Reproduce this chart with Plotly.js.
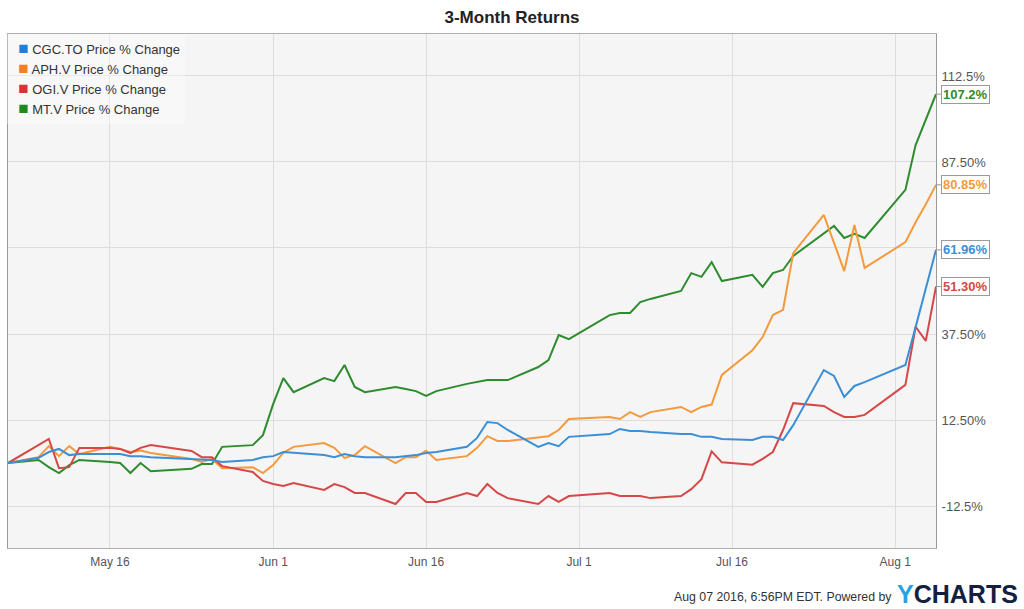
<!DOCTYPE html>
<html>
<head>
<meta charset="utf-8">
<script src="https://cdn.plot.ly/plotly-3.0.1.min.js"></script>
<style>html,body{margin:0;padding:0;background:#fff;}#chart{width:1024px;height:609px;}</style>
</head>
<body>
<div id="chart"></div>
<script>
const dates = ["2016-05-06","2016-05-09","2016-05-10","2016-05-11","2016-05-12","2016-05-13",
"2016-05-16","2016-05-17","2016-05-18","2016-05-19","2016-05-20","2016-05-24","2016-05-25",
"2016-05-26","2016-05-27","2016-05-30","2016-05-31","2016-06-01","2016-06-02","2016-06-03",
"2016-06-06","2016-06-07","2016-06-08","2016-06-09","2016-06-10","2016-06-13","2016-06-14",
"2016-06-15","2016-06-16","2016-06-17","2016-06-20","2016-06-21","2016-06-22","2016-06-23",
"2016-06-24","2016-06-27","2016-06-28","2016-06-29","2016-06-30","2016-07-04","2016-07-05",
"2016-07-06","2016-07-07","2016-07-08","2016-07-11","2016-07-12","2016-07-13","2016-07-14",
"2016-07-15","2016-07-18","2016-07-19","2016-07-20","2016-07-21","2016-07-22","2016-07-25",
"2016-07-26","2016-07-27","2016-07-28","2016-07-29","2016-08-02","2016-08-03","2016-08-04",
"2016-08-05"];

const cgc = [0,1.5,3.2,4.1,2.3,2.6,2.6,2.6,2.0,2.0,1.7,1.2,1.2,0.9,0.3,0.9,1.7,2.0,3.2,3.0,
2.3,1.7,2.6,2.0,1.7,1.7,2.0,2.3,2.9,3.2,4.7,7.3,11.9,11.6,9.6,4.7,5.8,4.9,7.6,8.4,9.9,
9.3,9.3,9.0,8.4,8.4,7.6,7.6,7.0,6.7,7.6,7.6,6.7,11.0,27.0,25.3,19.2,22.4,23.5,28.5,39.5,50.5,61.96];

const aph = [0,1.7,4.9,2.0,4.9,2.6,4.7,4.1,3.2,3.6,2.9,1.2,0.3,1.2,-1.5,-1.2,-2.9,-0.6,3.0,4.7,
5.8,4.4,1.5,2.3,4.9,0,1.7,1.7,3.6,0.9,2.0,4.4,7.8,6.4,6.4,7.3,7.8,9.6,12.8,13.4,12.8,
14.8,13.4,14.8,16.3,14.8,16.3,17.0,25.6,32.8,36.6,43.0,44.5,61.0,72.1,64.0,55.8,69.2,56.7,64.2,70.0,75.2,80.85];

const ogi = [0,5.3,7.0,-1.5,-1.2,4.4,4.4,4.1,2.9,4.4,5.2,3.5,1.7,1.7,-0.9,-2.6,-5.2,-6.1,-6.7,-5.8,
-7.8,-6.1,-7.0,-8.7,-8.7,-11.9,-8.7,-8.7,-11.3,-11.3,-8.7,-9.6,-6.1,-8.7,-10.2,-11.9,-9.6,-11.3,-9.6,-8.7,-9.6,
-9.6,-9.6,-10.2,-9.6,-7.6,-4.7,3.4,0.2,-0.5,1.2,3.2,9.6,17.4,16.6,14.8,13.4,13.4,14.0,22.7,39.6,35.5,51.30];

const mt = [0,0.9,-1.2,-2.9,-0.6,0.9,0.3,0,-2.9,0,-2.4,-1.7,-0.3,-0.3,4.7,5.2,8.1,17.1,24.7,20.6,
24.7,23.8,28.5,22.1,20.6,22.1,21.5,20.9,19.5,20.9,23.0,23.6,24.1,24.1,24.1,27.9,29.9,37.2,36.0,43.0,43.6,
43.6,46.8,47.7,50.0,55.2,54.1,58.4,52.9,54.7,51.2,55.2,56.1,60.2,66.9,68.9,65.4,66.6,65.4,79.4,92.4,99.7,107.2];

const seriesNames = ["CGC.TO Price % Change","APH.V Price % Change","OGI.V Price % Change","MT.V Price % Change"];
const seriesData = [cgc, aph, ogi, mt];
const lineColors = ["#3b8fd6","#f49a3c","#d64848","#2e8b2e"];
const legendColors = ["#1f7fd6","#f28024","#d9333a","#1e8a1e"];
const endLabels = ["61.96%","80.85%","51.30%","107.2%"];

const xTickVals = ["2016-05-16","2016-06-01","2016-06-16","2016-07-01","2016-07-16","2016-08-01"];
const xTickText = ["May 16","Jun 1","Jun 16","Jul 1","Jul 16","Aug 1"];
const yTickVals = [-12.5,12.5,37.5,62.5,87.5,112.5];
const yTickText = ["-12.5%","12.50%","37.50%","","87.50%","112.5%"];

const FONT = "Liberation Sans, Arial, sans-serif";
const traces = [];
const order = [3,1,2,0];
order.forEach(i => {
  traces.push({
    x: dates, y: seriesData[i], type: "scatter", mode: "lines",
    line: {color: lineColors[i], width: 2}, showlegend: false, hoverinfo: "skip"
  });
});
for (let i = 0; i < 4; i++) {
  traces.push({
    x: [null], y: [null], type: "scatter", mode: "markers",
    name: "<span style=\"color:" + legendColors[i] + ";font-size:17px\">\u25A0</span> " + seriesNames[i],
    marker: {symbol: "square", size: 1, color: "rgba(0,0,0,0)"}, showlegend: true
  });
}

const annotations = [];
for (let i = 0; i < 4; i++) {
  const d = seriesData[i];
  annotations.push({
    x: dates[dates.length - 1], y: d[d.length - 1], xref: "x", yref: "y",
    text: "<b>" + endLabels[i] + "</b>",
    showarrow: true, arrowhead: 0, arrowwidth: 1, arrowcolor: "#9a9a9a",
    ax: 5, ay: 0, xanchor: "left", yanchor: "middle",
    font: {family: FONT, size: 13, color: lineColors[i]},
    bgcolor: "#ffffff", bordercolor: "#9a9a9a", borderwidth: 1, borderpad: 1
  });
}
annotations.push({
  xref: "paper", yref: "paper", x: (894 - 8) / 928, y: -(597 - 548) / 514,
  xanchor: "right", yanchor: "middle", showarrow: false,
  text: "Aug 07 2016, 6:56PM EDT. Powered by",
  font: {family: FONT, size: 12.3, color: "#333333"}
});
annotations.push({
  xref: "paper", yref: "paper", x: (895 - 8) / 928, y: -(594 - 548) / 514,
  xanchor: "left", yanchor: "middle", showarrow: false,
  text: "<b><span style=\"color:#29a3e0\">Y</span>CHARTS</b>",
  font: {family: FONT, size: 25, color: "#13213f"}
});

const layout = {
  width: 1024, height: 609,
  margin: {l: 8, r: 88, t: 34, b: 61, autoexpand: false},
  paper_bgcolor: "#ffffff", plot_bgcolor: "#f5f5f5",
  font: {family: FONT, color: "#555555"},
  title: {text: "<b>3-Month Returns</b>", x: 0.5, xref: "container", xanchor: "center",
    y: 1 - 17 / 609, yanchor: "middle", font: {family: FONT, size: 17, color: "#222222"}},
  xaxis: {
    type: "date", range: ["2016-05-06", "2016-08-05"],
    tickvals: xTickVals, ticktext: xTickText, ticks: "outside", ticklen: 3, tickcolor: "rgba(0,0,0,0)",
    showgrid: true, gridcolor: "#dddddd", gridwidth: 1,
    showline: true, linecolor: "#b0b0b0", linewidth: 1, mirror: true,
    tickfont: {family: FONT, size: 12, color: "#555555"}, zeroline: false, fixedrange: true
  },
  yaxis: {
    side: "right", range: [-24.7, 124.7],
    tickvals: yTickVals, ticktext: yTickText, ticks: "outside", ticklen: 2, tickcolor: "rgba(0,0,0,0)",
    showgrid: true, gridcolor: "#dddddd", gridwidth: 1,
    showline: true, linecolor: "#999999", linewidth: 1, mirror: true,
    tickfont: {family: FONT, size: 13, color: "#555555"}, zeroline: false, fixedrange: true
  },
  legend: {
    x: -0.032, y: 1, xanchor: "left", yanchor: "top",
    bgcolor: "rgba(255,255,255,0.35)", borderwidth: 0,
    font: {family: FONT, size: 13, color: "#333333"},
    tracegroupgap: 0, itemwidth: 30
  },
  annotations: annotations,
  hovermode: false
};

Plotly.newPlot("chart", traces, layout, {staticPlot: true, displayModeBar: false});
</script>
</body>
</html>
